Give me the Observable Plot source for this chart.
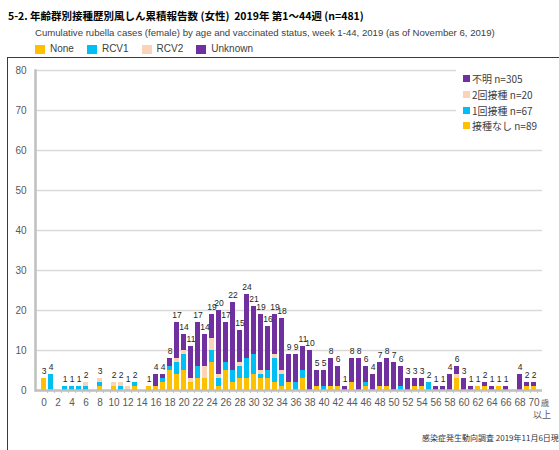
<!DOCTYPE html>
<html><head><meta charset="utf-8">
<script src="https://cdn.jsdelivr.net/npm/d3@7"></script>
<script src="https://cdn.jsdelivr.net/npm/@observablehq/plot@0.6"></script>
<style>
body{margin:0;width:559px;height:450px;position:relative;overflow:hidden;background:#fff;font-family:"Noto Sans CJK JP","Liberation Sans",sans-serif;}
.abs{position:absolute;white-space:nowrap;}
#title{left:8px;top:9px;font-size:10.5px;font-weight:bold;color:#000;line-height:14px;}
#subtitle{left:35px;top:26px;font-size:9.6px;color:#404040;line-height:13px;font-family:"Liberation Sans",sans-serif;}
#legend{left:35px;top:43px;font-size:10px;color:#404040;line-height:12px;font-family:"Liberation Sans",sans-serif;display:flex;}
#legend span.it{display:flex;align-items:center;margin-right:13px;}
#legend i{display:inline-block;width:10px;height:9px;margin-right:5px;}
#frame{left:7px;top:57px;width:560px;height:400px;border-left:1px solid #3a3a3a;border-top:1px solid #3a3a3a;}
#chart{left:0;top:58px;}
#inlegend{left:456px;top:69px;width:88px;background:#fff;padding:2px 0 4px 7px;font-size:10px;color:#404040;}
#inlegend div{display:flex;align-items:center;height:15.7px;}
#inlegend i{display:inline-block;width:7px;height:7px;margin-right:2px;}
#footer{left:422px;top:432px;font-size:8px;color:#333;}
</style></head>
<body>
<div id="frame" class="abs"></div>
<div id="title" class="abs">5-2. 年齢群別接種歴別風しん累積報告数 (女性)&nbsp; 2019年 第1～44週 (n=481)</div>
<div id="subtitle" class="abs">Cumulative rubella cases (female) by age and vaccinated status, week 1-44, 2019 (as of November 6, 2019)</div>
<div id="legend" class="abs"></div>
<div id="chart" class="abs"></div>
<div id="inlegend" class="abs"></div>
<div id="footer" class="abs">感染症発生動向調査 2019年11月6日現在</div>
<script>
const ages = d3.range(0, 71);
const statuses = ["None", "RCV1", "RCV2", "Unknown"];
const statusColors = ["#FFC000", "#00BFF5", "#FAD3B8", "#7030A0"];
const innerLegendLabels = ["不明 n=305", "2回接種 n=20", "1回接種 n=67", "接種なし n=89"];
// values per age 0..70 (70 = 70歳以上)
const none    = [3,0,0,0,0,0,0,0,1,0, 1,0,0,1,0,1,1,2,5,4, 5,2,3,3,7,1,5,2,3,3, 4,3,3,2,1,2,0,3,0,1, 0,1,1,0,2,0,1,0,1,1, 0,0,0,1,1,0,0,0,0,3, 0,0,1,1,0,1,0,0,0,1, 1];
const rcv1    = [0,4,0,1,1,1,1,0,1,0, 0,1,0,1,0,0,0,1,1,3, 4,0,3,0,3,2,2,3,3,5, 5,1,2,6,3,0,2,2,0,0, 1,0,0,0,0,0,1,0,0,0, 0,1,0,0,0,2,0,0,0,0, 0,0,0,0,0,0,0,0,0,0, 0];
const rcv2    = [0,0,0,0,0,0,1,0,1,0, 1,1,1,0,0,0,0,0,0,1, 1,1,0,3,3,1,0,0,1,0, 0,1,0,1,1,0,0,0,0,0, 0,0,0,0,0,0,0,0,0,0, 0,0,0,0,0,0,0,0,0,1, 0,0,0,0,0,0,0,0,0,0, 0];
const unknown = [0,0,0,0,0,0,0,0,0,0, 0,0,0,0,0,0,3,1,2,9, 4,8,11,8,6,16,10,17,8,16, 12,14,11,10,13,7,7,6,10,4, 4,7,5,1,6,8,4,4,6,7, 7,5,3,2,2,0,1,1,4,2, 3,1,0,1,1,0,1,0,4,1, 1];
const yTicks = d3.range(0, 81, 10);
const xTicks = ages.filter(a => a % 2 === 0);
const lastAge = 70;

const series = [none, rcv1, rcv2, unknown];
const rows = [];
ages.forEach((a, i) => series.forEach((arr, k) => rows.push({age: a, status: statuses[k], n: arr[i]})));
const totals = ages.map((a, i) => ({age: a, total: none[i] + rcv1[i] + rcv2[i] + unknown[i]})).filter(d => d.total > 0);

// top legend
const lg = document.getElementById("legend");
statuses.forEach((s, k) => {
  const sp = document.createElement("span"); sp.className = "it";
  sp.innerHTML = `<i style="background:${statusColors[k]}"></i>${s}`;
  lg.appendChild(sp);
});
// inner legend (Unknown at top)
const il = document.getElementById("inlegend");
[3, 2, 1, 0].forEach((k, j) => {
  const d = document.createElement("div");
  d.innerHTML = `<i style="background:${statusColors[k]}"></i>${innerLegendLabels[j]}`;
  il.appendChild(d);
});

const chart = Plot.plot({
  width: 559, height: 382,
  marginTop: 12, marginBottom: 50, marginLeft: 35, marginRight: 17,
  x: {type: "band", domain: ages, paddingInner: 0.3, paddingOuter: 0.2, label: null},
  y: {domain: [0, 80], label: null},
  color: {domain: statuses, range: statusColors},
  style: {fontFamily: "'Liberation Sans', sans-serif", fontSize: "10px", color: "#595959", background: "transparent"},
  marks: [
    Plot.gridY(yTicks.filter(t => t > 0), {stroke: "#d9d9d9", strokeOpacity: 1, strokeWidth: 1.5}),
    Plot.barY(rows, {x: "age", y: "n", fill: "status"}),
    Plot.axisX(ages, {tickSize: 3, tickFormat: () => "", dx: 3.6, stroke: "#bfbfbf", label: null}),
    Plot.ruleY([0], {stroke: "#bfbfbf", strokeWidth: 2.5}),
    Plot.frame({anchor: "left", stroke: "#bfbfbf", strokeWidth: 2.5}),
    Plot.axisY(yTicks, {tickSize: 0, tickPadding: 9, fill: "#595959", fontSize: 10, label: null}),
    Plot.axisX(xTicks, {tickSize: 0, tickPadding: 8, fill: "#595959", fontSize: 10, label: null,
      tickFormat: d => String(d)}),
    Plot.text([lastAge], {x: d => d, y: () => 0, text: () => "歳", dx: 11, dy: 13, fontSize: 8.5, fill: "#595959", fontFamily: "Noto Sans CJK JP"}),
    Plot.text([lastAge], {x: d => d, y: () => 0, text: () => "以上", dx: 8, dy: 25, fontSize: 9, fill: "#595959", fontFamily: "Noto Sans CJK JP"}),
    Plot.text(totals, {x: "age", y: "total", text: "total", dy: -7, fontSize: 8.5, fill: "#262626"})
  ]
});
document.getElementById("chart").appendChild(chart);
</script>
</body></html>
